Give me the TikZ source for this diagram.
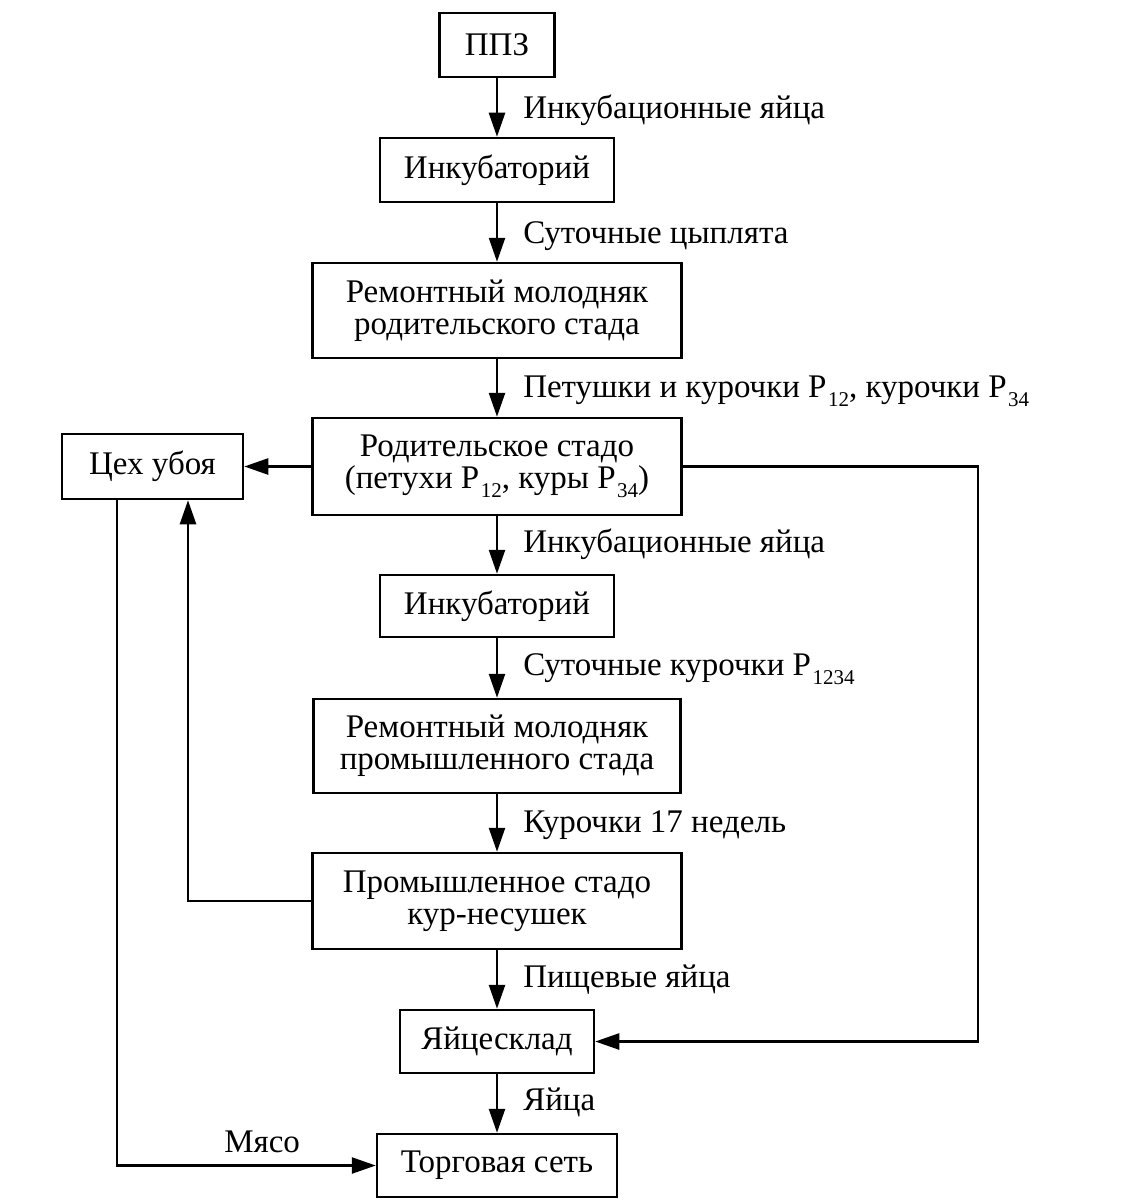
\documentclass[tikz,border=0pt]{standalone}
\usepackage{fontspec}
\setmainfont{Liberation Serif}
\usetikzlibrary{arrows.meta}
% lowered small index after a letter, e.g. P 12
\newcommand\idx[1]{\kern1.5pt\raisebox{-9pt}{\fontsize{21}{21}\selectfont #1}}
\begin{document}
\begin{tikzpicture}[x=1pt,y=-1pt,
  line width=2.5pt,
  every node/.style={font=\fontsize{33}{32}\selectfont},
  blk/.style={draw, inner sep=0pt, align=center},
  lbl/.style={anchor=base west, inner sep=0pt},
  flow/.style={-{Triangle[length=24pt,width=16pt]}}]
\useasboundingbox (0,0) rectangle (1142,1204);

% main chain of boxes
\node[blk, minimum width=115, minimum height=64]  (ppz)   at (497,45)     {ППЗ};
\node[blk, minimum width=234, minimum height=64]  (inc1)  at (497,170)    {Инкубаторий};
\node[blk, minimum width=369, minimum height=95]  (rpar)  at (497,310.5)  {Ремонтный молодняк\\родительского стада};
\node[blk, minimum width=369, minimum height=97]  (par)   at (497,466.5)  {Родительское стадо\\(петухи P\idx{12}, куры P\idx{34})};
\node[blk, minimum width=234, minimum height=62]  (inc2)  at (497,606)    {Инкубаторий};
\node[blk, minimum width=367, minimum height=94]  (rind)  at (497,746)    {Ремонтный молодняк\\промышленного стада};
\node[blk, minimum width=369, minimum height=96]  (ind)   at (497,901)    {Промышленное стадо\\кур-несушек};
\node[blk, minimum width=194, minimum height=63]  (egg)   at (497,1041.5) {Яйцесклад};
\node[blk, minimum width=240, minimum height=63]  (trade) at (497,1165.5) {Торговая сеть};
\node[blk, minimum width=181, minimum height=65]  (kill)  at (152.5,466.5) {Цех убоя};

% vertical flow
\draw[flow] (ppz)  -- (inc1);
\draw[flow] (inc1) -- (rpar);
\draw[flow] (rpar) -- (par);
\draw[flow] (par)  -- (inc2);
\draw[flow] (inc2) -- (rind);
\draw[flow] (rind) -- (ind);
\draw[flow] (ind)  -- (egg);
\draw[flow] (egg)  -- (trade);

% flow labels
\node[lbl] (l1) at (522,119)  {Инкубационные яйца};
\node[lbl] (l2) at (522,243)  {Суточные цыплята};
\node[lbl] (l3) at (522,397)  {Петушки и курочки P\idx{12}, курочки P\idx{34}};
\node[lbl] (l4) at (522,552)  {Инкубационные яйца};
\node[lbl] (l5) at (522,675)  {Суточные курочки P\idx{1234}};
\node[lbl] (l6) at (522,832)  {Курочки 17 недель};
\node[lbl] (l7) at (522,987)  {Пищевые яйца};
\node[lbl] (l8) at (522,1110) {Яйца};
\node[lbl] (l9) at (223,1152) {Мясо};

% side connections
\coordinate (rt) at (978,0);
\coordinate (lt) at (188,0);
\coordinate (ll) at (117,0);
\draw[flow] (par.west) -- (kill.east);
\draw[flow] (par.east) -- (par.east -| rt) -- (egg.east -| rt) -- (egg.east);
\draw[flow] (ind.west) -- (ind.west -| lt) -- (kill.south -| lt);
\draw[flow] (kill.south -| ll) -- (trade.west -| ll) -- (trade.west);
\end{tikzpicture}
\end{document}
